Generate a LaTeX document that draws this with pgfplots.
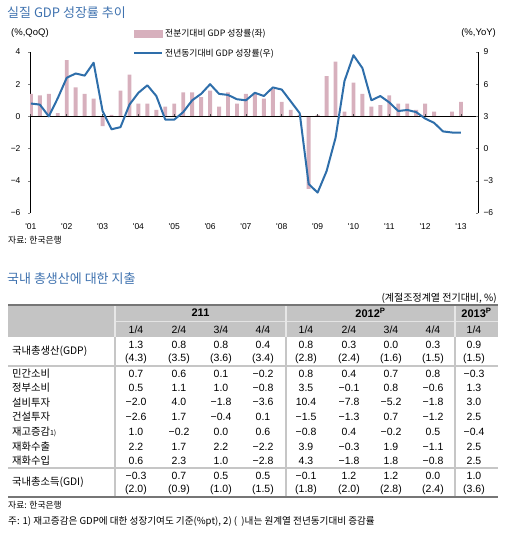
\documentclass[border=0pt]{standalone}
\usepackage{pgfplots}
\pgfplotsset{compat=1.18}
\usepackage{fontspec}
\setmainfont{Noto Sans CJK KR}
\newfontfamily\num{Liberation Sans}
\definecolor{barpink}{RGB}{215,176,189}
\definecolor{lineblue}{RGB}{46,110,170}
\definecolor{titleblue}{RGB}{63,114,175}
\definecolor{hdrgray}{RGB}{196,196,196}
\definecolor{bordergray}{RGB}{118,118,118}
\definecolor{sepgray}{RGB}{198,198,198}
\newcommand\fs[1]{\fontsize{#1}{#1}\selectfont}
\newcommand\trow[2]{%
  \foreach \v [count=\c from 0] in {#2}{%
    \pgfmathsetmacro\cx{{136,179,221,263,306,349,391,433,474}[\c]}%
    \node[font=\num\fs{10.5},inner sep=0pt] at (\cx,-#1) {\v};}}
\pgfplotsset{
  barleg/.style={legend image code/.code={\fill[barpink] (0pt,-3.2pt) rectangle (28pt,3.2pt);}},
  lineleg/.style={legend image code/.code={\draw[lineblue, line width=2pt] (0pt,0pt) -- (28pt,0pt);}},
}

\begin{document}
\begin{tikzpicture}
\path[use as bounding box] (0pt,0pt) rectangle (512pt,-533pt);

% ---------- left axis: QoQ bars ----------
\begin{axis}[
  at={(30pt,-213pt)}, anchor=south west,
  scale only axis, width=448pt, height=161pt,
  xmin=-0.1, xmax=49.9, ymin=-6, ymax=4,
  axis y line*=left, axis x line*=bottom,
  axis line style={-},
  x axis line style={draw=none},
  y axis line style={black, line width=1pt},
  xtick={0,4,...,48},
  xticklabels={{\textquotesingle}01,{\textquotesingle}02,{\textquotesingle}03,{\textquotesingle}04,{\textquotesingle}05,{\textquotesingle}06,{\textquotesingle}07,{\textquotesingle}08,{\textquotesingle}09,{\textquotesingle}10,{\textquotesingle}11,{\textquotesingle}12,{\textquotesingle}13},
  xtick style={draw=none},
  ytick={-6,-4,-2,0,2,4},
  yticklabels={−6,−4,−2,0,2,4},
  ytick style={gray, line width=0.6pt},
  major tick length=2pt, tick align=outside,
  tick label style={font=\num\fs{8.5}},
  yticklabel style={xshift=-4pt},
  xticklabel style={yshift=-5pt},
]
\addplot[ybar, bar width=3.9pt, fill=barpink, draw=none] coordinates {
(0,1.4) (1,1.3) (2,1.4) (3,0.2) (4,3.5) (5,1.8) (6,1.4) (7,1.1)
(8,-0.6) (9,0.1) (10,1.6) (11,2.6) (12,0.8) (13,0.8) (14,0.4) (15,0.6)
(16,0.8) (17,1.5) (18,1.5) (19,1.2) (20,1.6) (21,0.6) (22,1.5) (23,0.8)
(24,1.4) (25,1.4) (26,1.1) (27,1.7) (28,0.9) (29,0.4) (30,0.1) (31,-4.5)
(32,0.1) (33,2.5) (34,3.4) (35,0.3) (36,2.1) (37,1.4) (38,0.6) (39,0.7)
(40,1.3) (41,0.8) (42,0.8) (43,0.4) (44,0.8) (45,0.3) (46,0.0) (47,0.3)
(48,0.9)};
\draw[black, line width=1pt] (axis cs:-0.1,0) -- (axis cs:49.9,0);
\pgfplotsinvokeforeach{0,4,...,48}{\draw[black!70, line width=0.8pt] (axis cs:#1,0) -- ++(0pt,2.2pt);}
\end{axis}

% ---------- right axis: YoY line ----------
\begin{axis}[
  at={(30pt,-213pt)}, anchor=south west,
  scale only axis, width=448pt, height=161pt,
  xmin=-0.1, xmax=49.9, ymin=-6, ymax=9,
  axis x line=none, axis y line*=right,
  axis line style={-},
  y axis line style={black, line width=1pt},
  ytick={-6,-3,0,3,6,9},
  yticklabels={−6,−3,0,3,6,9},
  ytick style={gray, line width=0.6pt},
  major tick length=2pt, tick align=inside,
  tick label style={font=\num\fs{8.5}},
  yticklabel style={xshift=2pt},
  legend style={at={(axis description cs:0,1)}, anchor=north west,
    xshift=103pt, yshift=25pt, draw=none, fill=none, inner sep=0pt,
    row sep=7pt, font=\fs{8.8}, legend cell align=left},
]
\addlegendimage{barleg}
\addlegendentry{전분기대비 GDP 성장률(좌)}
\addplot[lineblue, line width=2pt, line join=round, lineleg] coordinates {
(0,4.2) (1,4.1) (2,3.0) (3,4.7) (4,6.6) (5,7.0) (6,6.8) (7,8.0)
(8,3.5) (9,1.8) (10,2.0) (11,4.1) (12,5.2) (13,5.9) (14,4.9) (15,2.7)
(16,2.7) (17,3.4) (18,4.5) (19,5.1) (20,6.0) (21,5.1) (22,5.0) (23,4.6)
(24,4.5) (25,5.2) (26,4.9) (27,5.7) (28,5.5) (29,4.4) (30,3.3) (31,-3.3)
(32,-4.1) (33,-2.1) (34,1.0) (35,6.3) (36,8.7) (37,7.5) (38,4.5) (39,4.9)
(40,4.3) (41,3.5) (42,3.6) (43,3.4) (44,2.8) (45,2.4) (46,1.6) (47,1.5)
(48,1.5)};
\addlegendentry{전년동기대비 GDP 성장률(우)}
\end{axis}

\begin{scope}[x=1pt,y=1pt]
% titles and notes
\node[anchor=west, text=titleblue, font=\fs{13}, inner sep=0pt] at (7,-12.5) {실질 GDP 성장률 추이};
\node[anchor=west, font=\num\fs{9.5}, inner sep=0pt] at (11,-33) {(\%,QoQ)};
\node[anchor=east, font=\num\fs{9.5}, inner sep=0pt] at (496,-33) {(\%,YoY)};
\node[anchor=west, font=\fs{8.8}, inner sep=0pt] at (8,-240) {자료: 한국은행};
\node[anchor=west, text=titleblue, font=\fs{13}, inner sep=0pt] at (7,-279) {국내 총생산에 대한 지출};
\node[anchor=east, font=\fs{10}, inner sep=0pt] at (497,-298) {(계절조정계열 전기대비, \%)};

% table frame
\fill[hdrgray] (8,-305) rectangle (498,-337);
\draw[white!55!hdrgray, line width=1pt] (115,-321) -- (498,-321);
\foreach \xx in {115,286,455} {\draw[white!60!hdrgray, line width=1.8pt] (\xx,-305) -- (\xx,-337);}
\foreach \xx in {115,286,455} {\draw[sepgray, line width=2pt] (\xx,-337) -- (\xx,-497);}
\draw[sepgray, line width=2pt] (8,-365.5) -- (498,-365.5);
\draw[sepgray, line width=2pt] (8,-467.5) -- (498,-467.5);
\draw[bordergray, line width=2pt] (8,-304.5) -- (498,-304.5);
\draw[bordergray, line width=2.2pt] (8,-497) -- (498,-497);

% header
\node[font=\num\bfseries\fs{11}, inner sep=0pt] at (200.5,-313) {211};
\node[font=\num\bfseries\fs{11}, inner sep=0pt] at (370.5,-313) {2012\textsuperscript{P}};
\node[font=\num\bfseries\fs{11}, inner sep=0pt] at (476.5,-313) {2013\textsuperscript{P}};
\trow{329.5}{1/4,2/4,3/4,4/4,1/4,2/4,3/4,4/4,1/4}

% row labels
\node[anchor=west, font=\fs{10.3}, inner sep=0pt] at (12,-351.5) {국내총생산(GDP)};
\node[anchor=west, font=\fs{10.3}, inner sep=0pt] at (12,-373.5) {민간소비};
\node[anchor=west, font=\fs{10.3}, inner sep=0pt] at (12,-387.8) {정부소비};
\node[anchor=west, font=\fs{10.3}, inner sep=0pt] at (12,-402.3) {설비투자};
\node[anchor=west, font=\fs{10.3}, inner sep=0pt] at (12,-417) {건설투자};
\node[anchor=west, font=\fs{10.3}, inner sep=0pt] at (12,-431.7) {재고증감{\fs{7}1)}};
\node[anchor=west, font=\fs{10.3}, inner sep=0pt] at (12,-446.5) {재화수출};
\node[anchor=west, font=\fs{10.3}, inner sep=0pt] at (12,-461) {재화수입};
\node[anchor=west, font=\fs{10.3}, inner sep=0pt] at (12,-482.5) {국내총소득(GDI)};

% values
\trow{344.5}{1.3,0.8,0.8,0.4,0.8,0.3,0.0,0.3,0.9}
\trow{358.5}{(4.3),(3.5),(3.6),(3.4),(2.8),(2.4),(1.6),(1.5),(1.5)}
\trow{373.5}{0.7,0.6,0.1,−0.2,0.8,0.4,0.7,0.8,−0.3}
\trow{387.8}{0.5,1.1,1.0,−0.8,3.5,−0.1,0.8,−0.6,1.3}
\trow{402.3}{−2.0,4.0,−1.8,−3.6,10.4,−7.8,−5.2,−1.8,3.0}
\trow{417}{−2.6,1.7,−0.4,0.1,−1.5,−1.3,0.7,−1.2,2.5}
\trow{431.7}{1.0,−0.2,0.0,0.6,−0.8,0.4,−0.2,0.5,−0.4}
\trow{446.5}{2.2,1.7,2.2,−2.2,3.9,−0.3,1.9,−1.1,2.5}
\trow{461}{0.6,2.3,1.0,−2.8,4.3,−1.8,1.8,−0.8,2.5}
\trow{475.7}{−0.3,0.7,0.5,0.5,−0.1,1.2,1.2,0.0,1.0}
\trow{490}{(2.0),(0.9),(1.0),(1.5),(1.8),(2.0),(2.8),(2.4),(3.6)}

\node[anchor=west, font=\fs{8.8}, inner sep=0pt] at (8,-505.5) {자료: 한국은행};
\node[anchor=west, font=\fs{9.6}, inner sep=0pt] at (8,-522) {주: 1) 재고증감은 GDP에 대한 성장기여도 기준(\%pt), 2) (\ \ )내는 원계열 전년동기대비 증감률};
\end{scope}
\end{tikzpicture}
\end{document}
